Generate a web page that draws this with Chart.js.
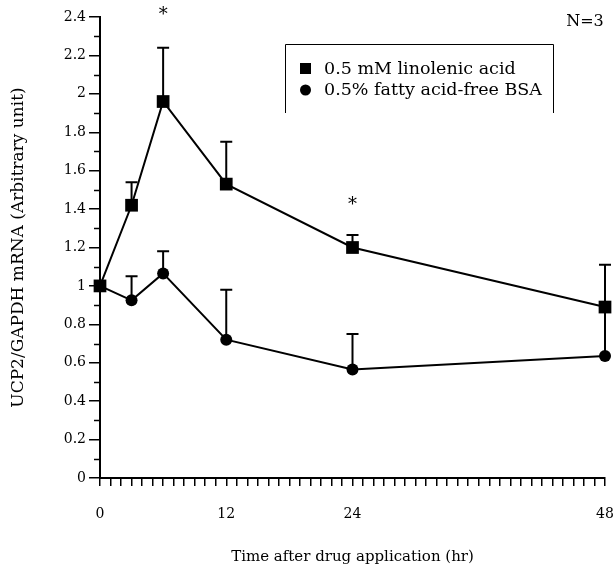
<!DOCTYPE html>
<html>
<head>
<meta charset="utf-8">
<script src="https://cdn.jsdelivr.net/npm/chart.js@4"></script>
<style>
  body { margin: 0; background: #fff; }
  canvas { display: block; }
</style>
</head>
<body>
<canvas id="chart" width="616" height="574"></canvas>
<script>
// values
var hours = [0, 3, 6, 12, 24, 48];
var linolenic = [1.0, 1.42, 1.96, 1.53, 1.2, 0.89];
var linolenicErrTop = [null, 1.54, 2.24, 1.75, 1.265, 1.11];
var bsa = [1.0, 0.925, 1.065, 0.72, 0.565, 0.635];
var bsaErrTop = [null, 1.05, 1.18, 0.98, 0.75, 0.87];
var starHours = [6, 24];
var starValues = [2.43, 1.44];
var xLabelHours = [0, 12, 24, 48];
var seriesNames = ["0.5 mM linolenic acid", "0.5% fatty acid-free BSA"];

var SERIF = "'DejaVu Serif', 'Liberation Serif', serif";

function toPoints(values) {
    return hours.map(function (h, i) { return { x: h, y: values[i] }; });
}

// error bars, minor ticks, stars, legend box and N label
var extras = {
    id: "extras",
    beforeDatasetsDraw: function (chart) {
        var ctx = chart.ctx;
        var xs = chart.scales.x, ys = chart.scales.y;
        ctx.save();
        ctx.strokeStyle = "#000";
        ctx.lineWidth = 2;
        [[linolenic, linolenicErrTop], [bsa, bsaErrTop]].forEach(function (pair) {
            hours.forEach(function (h, i) {
                var top = pair[1][i];
                if (top == null) return;
                var px = xs.getPixelForValue(h);
                var y0 = ys.getPixelForValue(pair[0][i]);
                var y1 = ys.getPixelForValue(top);
                ctx.beginPath();
                ctx.moveTo(px, y0);
                ctx.lineTo(px, y1);
                ctx.moveTo(px - 6, y1);
                ctx.lineTo(px + 6, y1);
                ctx.stroke();
            });
        });
        // minor y ticks
        ctx.lineWidth = 1.5;
        var left = chart.chartArea.left;
        for (var v = 0.1; v < 2.4; v += 0.2) {
            var py = Math.round(ys.getPixelForValue(v)) + 0.5;
            ctx.beginPath();
            ctx.moveTo(left - 6, py);
            ctx.lineTo(left, py);
            ctx.stroke();
        }
        ctx.restore();
    },
    afterDraw: function (chart) {
        var ctx = chart.ctx;
        var xs = chart.scales.x, ys = chart.scales.y;
        ctx.save();
        ctx.fillStyle = "#000";
        ctx.textAlign = "center";
        ctx.textBaseline = "middle";
        ctx.font = "18px " + SERIF;
        starHours.forEach(function (h, i) {
            ctx.fillText("*", xs.getPixelForValue(h), ys.getPixelForValue(starValues[i]) + 4);
        });

        ctx.font = "16px " + SERIF;
        ctx.fillText("N=3", 585, 22);

        // legend box, open at the bottom
        ctx.strokeStyle = "#000";
        ctx.lineWidth = 1;
        ctx.beginPath();
        ctx.moveTo(285.5, 113);
        ctx.lineTo(285.5, 44.5);
        ctx.lineTo(553.5, 44.5);
        ctx.lineTo(553.5, 113);
        ctx.stroke();

        ctx.fillRect(300, 63, 11, 11);
        ctx.beginPath();
        ctx.arc(305.5, 90, 5.5, 0, Math.PI * 2);
        ctx.fill();
        ctx.textAlign = "left";
        ctx.font = "17.5px " + SERIF;
        ctx.fillText(seriesNames[0], 324, 69);
        ctx.fillText(seriesNames[1], 324, 90);
        ctx.restore();
    }
};

new Chart(document.getElementById("chart"), {
    type: "line",
    data: {
        datasets: [
            {
                label: seriesNames[0],
                data: toPoints(linolenic),
                borderColor: "#000",
                backgroundColor: "#000",
                borderWidth: 2,
                pointStyle: "rect",
                pointRadius: 9,
                pointBorderWidth: 0,
                clip: false,
            },
            {
                label: seriesNames[1],
                data: toPoints(bsa),
                borderColor: "#000",
                backgroundColor: "#000",
                borderWidth: 2,
                pointStyle: "circle",
                pointRadius: 6,
                pointBorderWidth: 0,
                clip: false,
            },
        ],
    },
    plugins: [extras],
    options: {
        responsive: false,
        animation: false,
        layout: { padding: { top: 17, right: 11, left: 0, bottom: 0 } },
        plugins: {
            legend: { display: false },
            tooltip: { enabled: false },
        },
        scales: {
            x: {
                type: "linear",
                min: 0,
                max: 48,
                afterFit: function (scale) {
                    scale.height = 96;
                    scale.paddingLeft = 0;
                    scale.paddingRight = 0;
                },
                border: { color: "#000", width: 2 },
                grid: {
                    drawOnChartArea: false,
                    drawTicks: true,
                    tickLength: 8,
                    color: "#000",
                    lineWidth: 1.5,
                },
                ticks: {
                    stepSize: 1,
                    autoSkip: false,
                    maxRotation: 0,
                    padding: 20,
                    color: "#000",
                    font: { family: SERIF, size: 14 },
                    callback: function (v) {
                        return xLabelHours.indexOf(v) >= 0 ? String(v) : "";
                    },
                },
                title: {
                    display: true,
                    text: "Time after drug application (hr)",
                    color: "#000",
                    font: { family: SERIF, size: 15 },
                    padding: { top: 0, bottom: 8 },
                },
            },
            y: {
                min: 0,
                max: 2.4,
                afterFit: function (scale) { scale.width = 100; },
                border: { color: "#000", width: 2 },
                grid: {
                    drawOnChartArea: false,
                    drawTicks: true,
                    tickLength: 11,
                    color: "#000",
                    lineWidth: 1.5,
                },
                ticks: {
                    stepSize: 0.2,
                    padding: 3,
                    color: "#000",
                    font: { family: SERIF, size: 14 },
                    callback: function (v) { return String(+v.toFixed(1)); },
                },
                title: {
                    display: true,
                    text: "UCP2/GAPDH mRNA (Arbitrary unit)",
                    color: "#000",
                    font: { family: SERIF, size: 17 },
                    padding: { top: 8, bottom: 0 },
                },
            },
        },
    },
});
</script>
</body>
</html>
